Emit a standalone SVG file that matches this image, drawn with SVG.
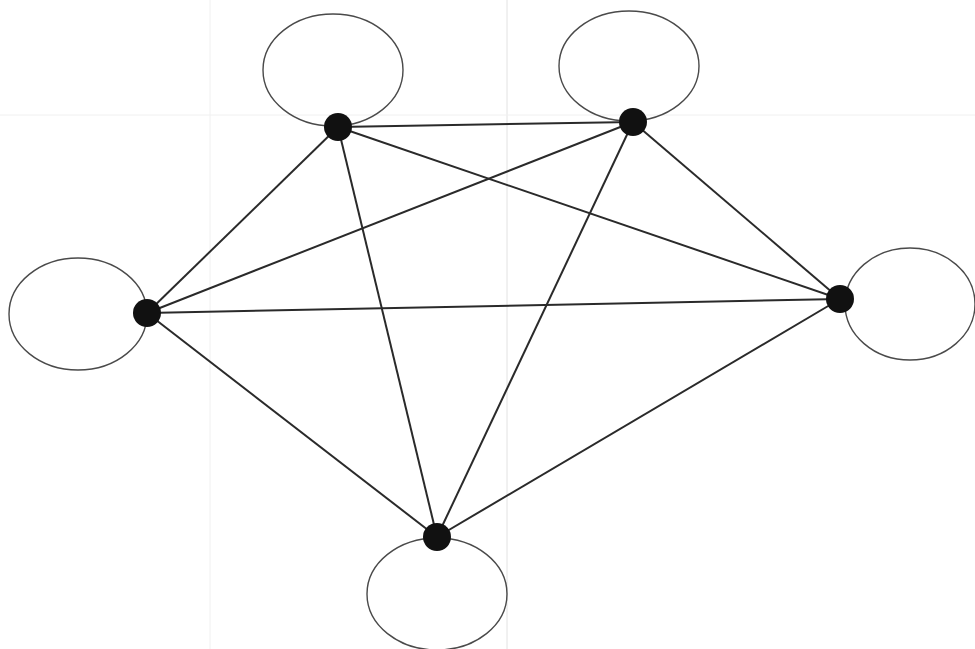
<svg xmlns="http://www.w3.org/2000/svg" width="975" height="649" viewBox="0 0 975 649">
<style>
.bg{fill:#ffffff}
.faint{stroke:#e2e2e2;stroke-width:1;fill:none}
.edge{stroke:#2a2a2a;stroke-width:2;fill:none}
.loop{stroke:#4a4a4a;stroke-width:1.4;fill:none}
.dot{fill:#111111}
</style>
<rect class="bg" x="0" y="0" width="975" height="649"/>
<g id="artifacts">
<line class="faint" x1="507" y1="0" x2="507" y2="649"/>
<line class="faint" x1="210" y1="0" x2="210" y2="649" style="stroke:#f0f0f0"/>
<line class="faint" x1="0" y1="115" x2="975" y2="115" style="stroke:#f0f0f0"/>
</g>
<g id="connectors">
<line class="edge" x1="338" y1="127" x2="633" y2="122"/>
<line class="edge" x1="338" y1="127" x2="147" y2="313"/>
<line class="edge" x1="338" y1="127" x2="840" y2="299"/>
<line class="edge" x1="338" y1="127" x2="437" y2="537"/>
<line class="edge" x1="633" y1="122" x2="147" y2="313"/>
<line class="edge" x1="633" y1="122" x2="840" y2="299"/>
<line class="edge" x1="633" y1="122" x2="437" y2="537"/>
<line class="edge" x1="147" y1="313" x2="840" y2="299"/>
<line class="edge" x1="147" y1="313" x2="437" y2="537"/>
<line class="edge" x1="840" y1="299" x2="437" y2="537"/>
<ellipse class="loop" cx="333" cy="70" rx="70" ry="56"/>
<ellipse class="loop" cx="629" cy="66" rx="70" ry="55"/>
<ellipse class="loop" cx="78" cy="314" rx="69" ry="56"/>
<ellipse class="loop" cx="910" cy="304" rx="65" ry="56"/>
<ellipse class="loop" cx="437" cy="594" rx="70" ry="56"/>
</g>
<g id="node-top-left"><circle class="dot" cx="338" cy="127" r="14"/></g>
<g id="node-top-right"><circle class="dot" cx="633" cy="122" r="14"/></g>
<g id="node-left"><circle class="dot" cx="147" cy="313" r="14"/></g>
<g id="node-right"><circle class="dot" cx="840" cy="299" r="14"/></g>
<g id="node-bottom"><circle class="dot" cx="437" cy="537" r="14"/></g>
</svg>
